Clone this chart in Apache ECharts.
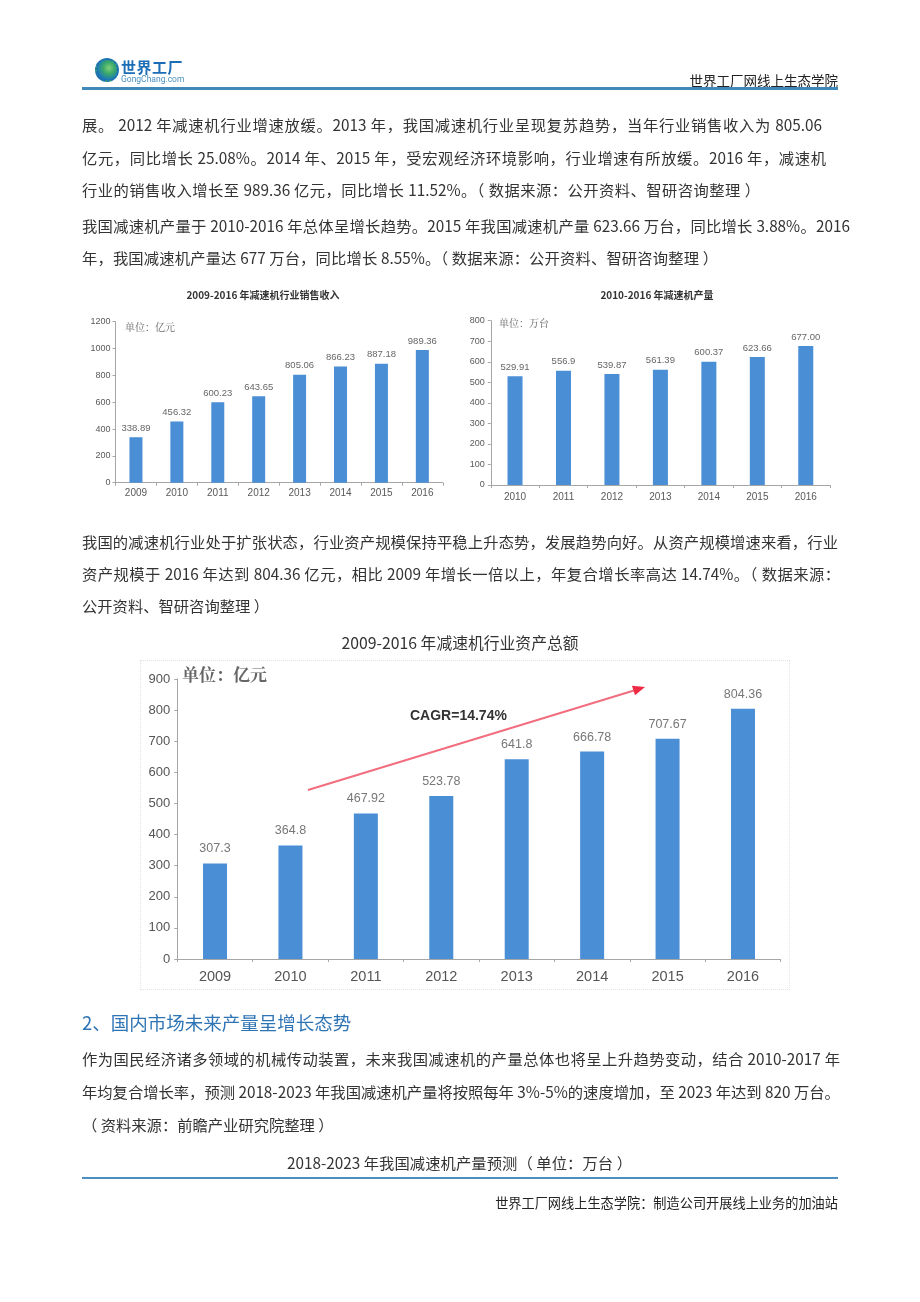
<!DOCTYPE html>
<html><head><meta charset="utf-8">
<script src="https://cdn.jsdelivr.net/npm/echarts@6/dist/echarts.min.js"></script>
<style>
html,body{margin:0;padding:0;background:#fff;}
body{width:920px;height:1302px;position:relative;overflow:hidden;font-family:"Noto Sans CJK SC","Noto Sans",sans-serif;color:#333;}
#chart{position:absolute;left:0;top:0;width:920px;height:1302px;z-index:0;}
.t{position:absolute;white-space:nowrap;font-size:15.3px;line-height:20px;height:20px;z-index:1;}
.j{text-align:justify;text-align-last:justify;}
.c{left:0;width:920px;text-align:center;}
.r{text-align:right;}
</style></head>
<body>
<div id="chart"></div>
<!-- header -->
<div style="position:absolute;left:95px;top:58px;width:24px;height:24px;border-radius:50%;background:radial-gradient(circle at 60% 40%,#7fd07a 0,#3aa86a 35%,#1d78b8 70%,#145e98 100%);border:2px dotted #1d6fb0;box-sizing:border-box;z-index:1"></div>
<div class="t" style="left:121px;top:58px;font-size:15px;font-weight:bold;color:#1b6db5;letter-spacing:0.5px;line-height:18px;height:18px">世界工厂</div>
<div class="t" style="left:121px;top:74px;font-size:8.5px;color:#4a90c0;line-height:10px;height:10px;font-family:Roboto,sans-serif">GongChang.com</div>
<div class="t r" style="left:500px;width:338px;top:70px;font-size:13.5px;color:#222">世界工厂网线上生态学院</div>
<div style="position:absolute;left:82px;top:87px;width:756px;height:3px;background:#3f88b8;z-index:1"></div>

<div class="t j" style="left:82px;width:740px;top:114px">展。 2012 年减速机行业增速放缓。2013 年，我国减速机行业呈现复苏趋势，当年行业销售收入为 805.06</div>
<div class="t j" style="left:82px;width:744px;top:147px">亿元，同比增长 25.08%。2014 年、2015 年，受宏观经济环境影响，行业增速有所放缓。2016 年，减速机</div>
<div class="t j" style="left:82px;width:678px;top:179px">行业的销售收入增长至 989.36 亿元，同比增长 11.52%。（ 数据来源：公开资料、智研咨询整理 ）</div>
<div class="t j" style="left:82px;width:768px;top:215px">我国减速机产量于 2010-2016 年总体呈增长趋势。2015 年我国减速机产量 623.66 万台，同比增长 3.88%。2016</div>
<div class="t j" style="left:82px;width:636px;top:247px">年，我国减速机产量达 677 万台，同比增长 8.55%。（ 数据来源：公开资料、智研咨询整理 ）</div>

<div class="t j" style="left:82px;width:756px;top:531px">我国的减速机行业处于扩张状态，行业资产规模保持平稳上升态势，发展趋势向好。从资产规模增速来看，行业</div>
<div class="t j" style="left:82px;width:758px;top:563px">资产规模于 2016 年达到 804.36 亿元，相比 2009 年增长一倍以上，年复合增长率高达 14.74%。（ 数据来源：</div>
<div class="t j" style="left:82px;width:170px;top:595px">公开资料、智研咨询整理 ）</div>
<div class="t c" style="top:633px;font-size:15.8px">2009-2016 年减速机行业资产总额</div>
<div style="position:absolute;left:140px;top:660px;width:650px;height:330px;border:1px dotted #e2e2e2;box-sizing:border-box;z-index:0"></div>

<div class="t" style="left:82px;top:1011px;font-size:18.5px;line-height:22px;height:22px;color:#2f75b5">2、国内市场未来产量呈增长态势</div>
<div class="t j" style="left:82px;width:758px;top:1048px">作为国民经济诸多领域的机械传动装置，未来我国减速机的产量总体也将呈上升趋势变动，结合 2010-2017 年</div>
<div class="t j" style="left:82px;width:756px;top:1081px">年均复合增长率，预测 2018-2023 年我国减速机产量将按照每年 3%-5%的速度增加，至 2023 年达到 820 万台。</div>
<div class="t j" style="left:82px;width:241px;top:1114px">（ 资料来源：前瞻产业研究院整理 ）</div>
<div class="t" style="left:287px;width:345px;top:1152px;text-align:justify;text-align-last:justify">2018-2023 年我国减速机产量预测（ 单位：万台 ）</div>
<div style="position:absolute;left:82px;top:1177px;width:756px;height:2px;background:#4a8fc0;z-index:1"></div>
<div class="t r" style="left:400px;width:438px;top:1193px;font-size:13.2px;color:#222">世界工厂网线上生态学院：制造公司开展线上业务的加油站</div>

<script>
// ---- data ----
const salesYears = ['2009','2010','2011','2012','2013','2014','2015','2016'];
const salesValues = [338.89, 456.32, 600.23, 643.65, 805.06, 866.23, 887.18, 989.36];
const prodYears = ['2010','2011','2012','2013','2014','2015','2016'];
const prodValues = [529.91, 556.9, 539.87, 561.39, 600.37, 623.66, 677.00];
const prodLabels = ['529.91','556.9','539.87','561.39','600.37','623.66','677.00'];
const assetYears = ['2009','2010','2011','2012','2013','2014','2015','2016'];
const assetValues = [307.3, 364.8, 467.92, 523.78, 641.8, 666.78, 707.67, 804.36];

const BAR = '#4a8ed6';
const FONT = 'Arial, Liberation Sans, sans-serif';
const chart = echarts.init(document.getElementById('chart'), null, {renderer:'canvas'});

function xAx(grid, data, fs, margin, color){
  return {type:'category', gridIndex:grid, data:data,
    axisLine:{lineStyle:{color:'#a6a6a6',width:1}},
    axisTick:{show:true,length:3,lineStyle:{color:'#a6a6a6'}},
    axisLabel:{fontSize:fs,color:color,margin:margin,fontFamily:FONT}};
}
function yAx(grid, max, interval, fs, margin, color){
  return {type:'value', gridIndex:grid, min:0, max:max, interval:interval,
    axisLine:{show:true,lineStyle:{color:'#a6a6a6',width:1}},
    axisTick:{show:true,length:3,lineStyle:{color:'#a6a6a6'}},
    splitLine:{show:false},
    axisLabel:{fontSize:fs,color:color,margin:margin,fontFamily:FONT,formatter:v=>String(v)}};
}

const option = {
  animation:false,
  grid:[
    {left:115.5, top:321.7, width:327.3, height:161},
    {left:490.8, top:320.7, width:339.2, height:164.3},
    {left:177.3, top:679, width:603.4, height:280}
  ],
  xAxis:[
    xAx(0, salesYears, 10, 6, '#595959'),
    xAx(1, prodYears, 10, 7, '#595959'),
    xAx(2, assetYears, 14.5, 10, '#555')
  ],
  yAxis:[
    yAx(0, 1200, 200, 9, 5, '#595959'),
    yAx(1, 800, 100, 9, 6, '#595959'),
    yAx(2, 900, 100, 13, 7, '#555')
  ],
  series:[
    {type:'bar', xAxisIndex:0, yAxisIndex:0, data:salesValues, barWidth:13,
     itemStyle:{color:BAR},
     label:{show:true, position:'top', distance:4, fontSize:9.5, color:'#666', fontFamily:FONT}},
    {type:'bar', xAxisIndex:1, yAxisIndex:1, data:prodValues, barWidth:15,
     itemStyle:{color:BAR},
     label:{show:true, position:'top', distance:4, fontSize:9.5, color:'#666', fontFamily:FONT,
       formatter:p=>prodLabels[p.dataIndex]}},
    {type:'bar', xAxisIndex:2, yAxisIndex:2, data:assetValues, barWidth:24,
     itemStyle:{color:BAR},
     label:{show:true, position:'top', distance:8, fontSize:12.5, color:'#777', fontFamily:FONT}}
  ],
  graphic:[
    {type:'text', x:263, y:295, style:{text:'2009-2016 年减速机行业销售收入', fontSize:10, fontWeight:'bold', fill:'#333', align:'center', verticalAlign:'middle', fontFamily:'Noto Sans CJK SC'}},
    {type:'text', x:657, y:295, style:{text:'2010-2016 年减速机产量', fontSize:10, fontWeight:'bold', fill:'#333', align:'center', verticalAlign:'middle', fontFamily:'Noto Sans CJK SC'}},
    {type:'text', x:125, y:327, style:{text:'单位：亿元', fontSize:10, fill:'#666', verticalAlign:'middle', fontFamily:'Noto Serif CJK SC, Noto Sans CJK SC, serif'}},
    {type:'text', x:499, y:323, style:{text:'单位：万台', fontSize:10, fill:'#666', verticalAlign:'middle', fontFamily:'Noto Serif CJK SC, Noto Sans CJK SC, serif'}},
    {type:'text', x:182, y:675, style:{text:'单位：亿元', fontSize:17, fontWeight:'bold', fill:'#666', verticalAlign:'middle', fontFamily:'Noto Serif CJK SC, Noto Sans CJK SC, serif'}},
    {type:'text', x:410, y:716, style:{text:'CAGR=14.74%', fontSize:14, fontWeight:'bold', fill:'#333', verticalAlign:'middle', fontFamily:'Liberation Sans, Arial, sans-serif'}},
    {type:'line', shape:{x1:308, y1:790, x2:634, y2:690.5}, style:{stroke:'#f26d7d', lineWidth:2}},
    {type:'polygon', shape:{points:[[645,687],[635,695.3],[632,685.7]]}, style:{fill:'#ee2a45'}}
  ]
};
chart.setOption(option);
</script>
</body></html>
